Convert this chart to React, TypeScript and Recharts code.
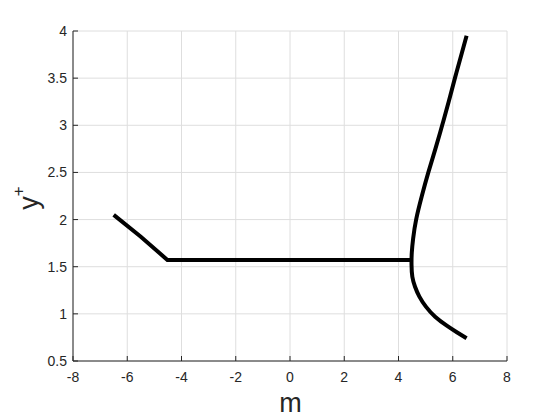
import React from 'react'
import { LineChart, Line, CartesianGrid, XAxis, YAxis } from 'recharts'

// tick values
const xTicks = [-8, -6, -4, -2, 0, 2, 4, 6, 8]
const yTicks = [0.5, 1, 1.5, 2, 2.5, 3, 3.5, 4]

// left branch + flat part
const flatBranch = [
  { x: -6.5, y: 2.05 },
  { x: -5.5, y: 1.818 },
  { x: -4.52, y: 1.572 },
  { x: 4.48, y: 1.572 },
]

// right curved branch, top to bottom
const curveBranch = [
  { x: 6.51, y: 3.95 },
  { x: 6.32, y: 3.75 },
  { x: 6.08, y: 3.5 },
  { x: 5.85, y: 3.25 },
  { x: 5.61, y: 3.0 },
  { x: 5.36, y: 2.75 },
  { x: 5.1, y: 2.5 },
  { x: 4.86, y: 2.25 },
  { x: 4.65, y: 2.0 },
  { x: 4.54, y: 1.8 },
  { x: 4.49, y: 1.65 },
  { x: 4.48, y: 1.52 },
  { x: 4.51, y: 1.394 },
  { x: 4.61, y: 1.288 },
  { x: 4.77, y: 1.183 },
  { x: 5.01, y: 1.077 },
  { x: 5.35, y: 0.97 },
  { x: 5.78, y: 0.875 },
  { x: 6.15, y: 0.805 },
  { x: 6.51, y: 0.741 },
]

const ink = '#262626'
const font = 'Arial, "Liberation Sans", Helvetica, sans-serif'

export default function App() {
  return (
    <div style={{ position: 'absolute', left: 0, top: 0, width: 560, height: 420, background: '#fff' }}>
      <LineChart
        width={560}
        height={420}
        margin={{ top: 31, right: 53, left: 13, bottom: 19 }}
        style={{ fontFamily: font }}
      >
        <CartesianGrid stroke="#dedede" />
        <XAxis
          type="number"
          dataKey="x"
          domain={[-8, 8]}
          ticks={xTicks}
          height={40}
          axisLine={{ stroke: ink }}
          tickLine={{ stroke: ink }}
          tickSize={-5}
          tickMargin={16}
          tick={{ fill: ink, fontSize: 14 }}
          allowDataOverflow
        />
        <YAxis
          type="number"
          dataKey="y"
          domain={[0.5, 4]}
          ticks={yTicks}
          width={60}
          axisLine={{ stroke: ink }}
          tickLine={{ stroke: ink }}
          tickSize={-5}
          tickMargin={11}
          tick={{ fill: ink, fontSize: 14 }}
          allowDataOverflow
        />
        <Line
          data={flatBranch}
          dataKey="y"
          type="linear"
          stroke="#000"
          strokeWidth={4}
          dot={false}
          isAnimationActive={false}
        />
        <Line
          data={curveBranch}
          dataKey="y"
          type="natural"
          stroke="#000"
          strokeWidth={4}
          dot={false}
          isAnimationActive={false}
        />
        <text x={290.5} y={412} textAnchor="middle" fontSize={27} fill={ink} fontFamily={font}>
          m
        </text>
        <text
          x={38}
          y={198}
          textAnchor="middle"
          fontSize={27}
          fill={ink}
          fontFamily={font}
          transform="rotate(-90, 38, 198)"
        >
          y
          <tspan dy={-14} fontSize={17}>
            +
          </tspan>
        </text>
      </LineChart>
    </div>
  )
}
